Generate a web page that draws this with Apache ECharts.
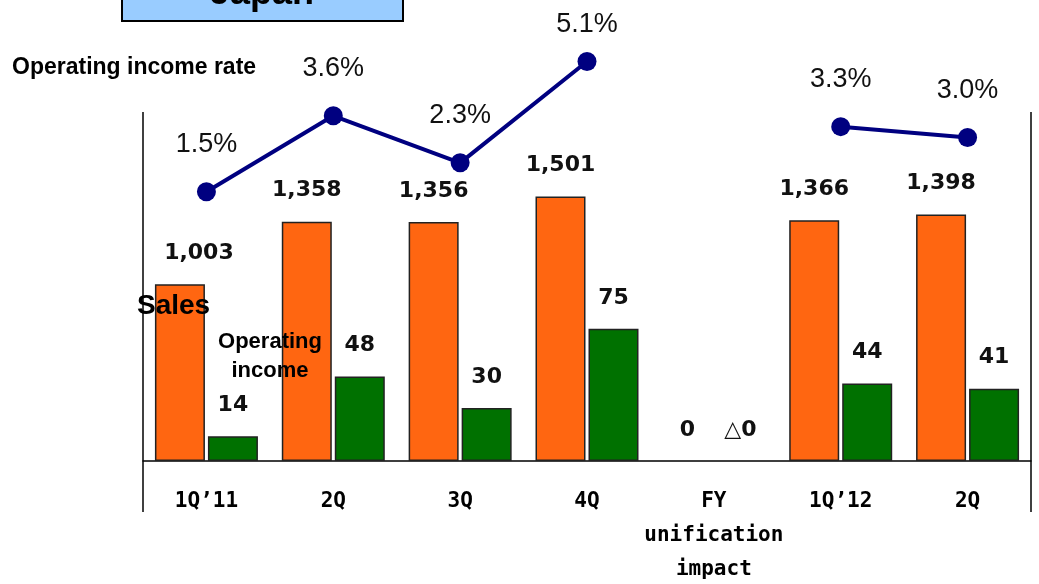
<!DOCTYPE html>
<html><head><meta charset="utf-8">
<script src="https://cdn.jsdelivr.net/npm/echarts@6/dist/echarts.min.js"></script>
<style>html,body{margin:0;padding:0;background:#fff}#c{width:1039px;height:584px}</style>
</head><body><div id="c"></div>
<script>
const categories = ['1Q\u201911', '2Q', '3Q', '4Q', 'FY\nunification\nimpact', '1Q\u201912', '2Q'];
const sales = [1003, 1358, 1356, 1501, 0, 1366, 1398];
const salesLabels = ['1,003', '1,358', '1,356', '1,501', '0', '1,366', '1,398'];
const opIncome = [14, 48, 30, 75, 0, 44, 41];
const opLabels = ['14', '48', '30', '75', '\u25B30', '44', '41'];
const opRate = [1.5, 3.6, 2.3, 5.1, null, 3.3, 3.0];
const rateLabels = ['1.5%', '3.6%', '2.3%', '5.1%', '', '3.3%', '3.0%'];

const chart = echarts.init(document.getElementById('c'), null, {renderer: 'canvas'});
const labFont = {fontFamily: '"DejaVu Sans"', fontWeight: 'bold', fontSize: 22, color: '#111'};
const barItem = (v, i, extra) => {
  const d = {value: v};
  if (v === 0) d.itemStyle = {borderWidth: 0};
  if (extra) Object.assign(d, extra);
  return d;
};
chart.setOption({
  animation: false,
  grid: [
    {left: 143, right: 8, top: 112, bottom: 123, outerBoundsMode: 'none', containLabel: false},
    {left: 143, right: 8, top: 29, bottom: 338, outerBoundsMode: 'none', containLabel: false}
  ],
  xAxis: [
    {type: 'category', gridIndex: 0, data: categories,
     axisLine: {lineStyle: {color: '#000', width: 1.5}}, axisTick: {show: false},
     axisLabel: {interval: 0, margin: 24, lineHeight: 34, fontFamily: '"DejaVu Sans Mono"', fontWeight: 'bold', fontSize: 21, color: '#000', verticalAlign: 'top'}},
    {type: 'category', gridIndex: 1, data: categories, show: false}
  ],
  yAxis: [
    {type: 'value', gridIndex: 0, min: 0, max: 1980, show: false},
    {type: 'value', gridIndex: 0, min: 0, max: 198, show: false},
    {type: 'value', gridIndex: 1, min: 0, max: 6, show: false}
  ],
  series: [
    {type: 'bar', name: 'Sales', xAxisIndex: 0, yAxisIndex: 0, barWidth: 50, barGap: '6%',
     itemStyle: {color: '#FF6611', borderColor: '#222', borderWidth: 1.5},
     data: sales.map((v, i) => barItem(v, i, i === 0 ? {label: {offset: [19, 0]}} : null)),
     label: Object.assign({show: true, position: 'top', distance: 20,
       formatter: p => salesLabels[p.dataIndex]}, labFont)},
    {type: 'bar', name: 'Operating income', xAxisIndex: 0, yAxisIndex: 1, barWidth: 50, barGap: '6%',
     itemStyle: {color: '#007100', borderColor: '#222', borderWidth: 1.5},
     data: opIncome.map((v, i) => barItem(v, i)),
     label: Object.assign({show: true, position: 'top', distance: 20,
       formatter: p => opLabels[p.dataIndex]}, labFont)},
    {type: 'line', name: 'Operating income rate', xAxisIndex: 1, yAxisIndex: 2,
     data: opRate.map((v, i) => i === 3 ? {value: v, label: {distance: 14}} : v),
     connectNulls: false, clip: false,
     symbol: 'circle', symbolSize: 19,
     lineStyle: {color: '#000080', width: 4}, itemStyle: {color: '#000080'},
     label: {show: true, position: 'top', distance: 24, formatter: p => rateLabels[p.dataIndex],
       fontFamily: 'Liberation Sans', fontSize: 27, color: '#111'}}
  ],
  graphic: [
    {type: 'line', z: 100, shape: {x1: 143, y1: 112, x2: 143, y2: 512}, style: {stroke: '#000', lineWidth: 1.5}},
    {type: 'line', z: 100, shape: {x1: 1031, y1: 112, x2: 1031, y2: 512}, style: {stroke: '#000', lineWidth: 1.5}},
    {type: 'rect', z: 100, shape: {x: 122, y: -40, width: 281, height: 61}, style: {fill: '#99CCFF', stroke: '#000', lineWidth: 2}},
    {type: 'text', z: 101, x: 262, y: -6, style: {text: 'Japan', fontFamily: 'Liberation Sans', fontWeight: 'bold', fontSize: 36, fill: '#000', textAlign: 'center', textVerticalAlign: 'middle'}},
    {type: 'text', z: 100, x: 12, y: 68, style: {text: 'Operating income rate', fontFamily: 'Liberation Sans', fontWeight: 'bold', fontSize: 23, fill: '#000', textVerticalAlign: 'middle'}},
    {type: 'text', z: 100, x: 137, y: 306, style: {text: 'Sales', fontFamily: 'Liberation Sans', fontWeight: 'bold', fontSize: 28, fill: '#000', textVerticalAlign: 'middle'}},
    {type: 'text', z: 100, x: 270, y: 356, style: {text: 'Operating\nincome', lineHeight: 29, fontFamily: 'Liberation Sans', fontWeight: 'bold', fontSize: 22, fill: '#000', textAlign: 'center', textVerticalAlign: 'middle'}}
  ]
});
</script></body></html>
